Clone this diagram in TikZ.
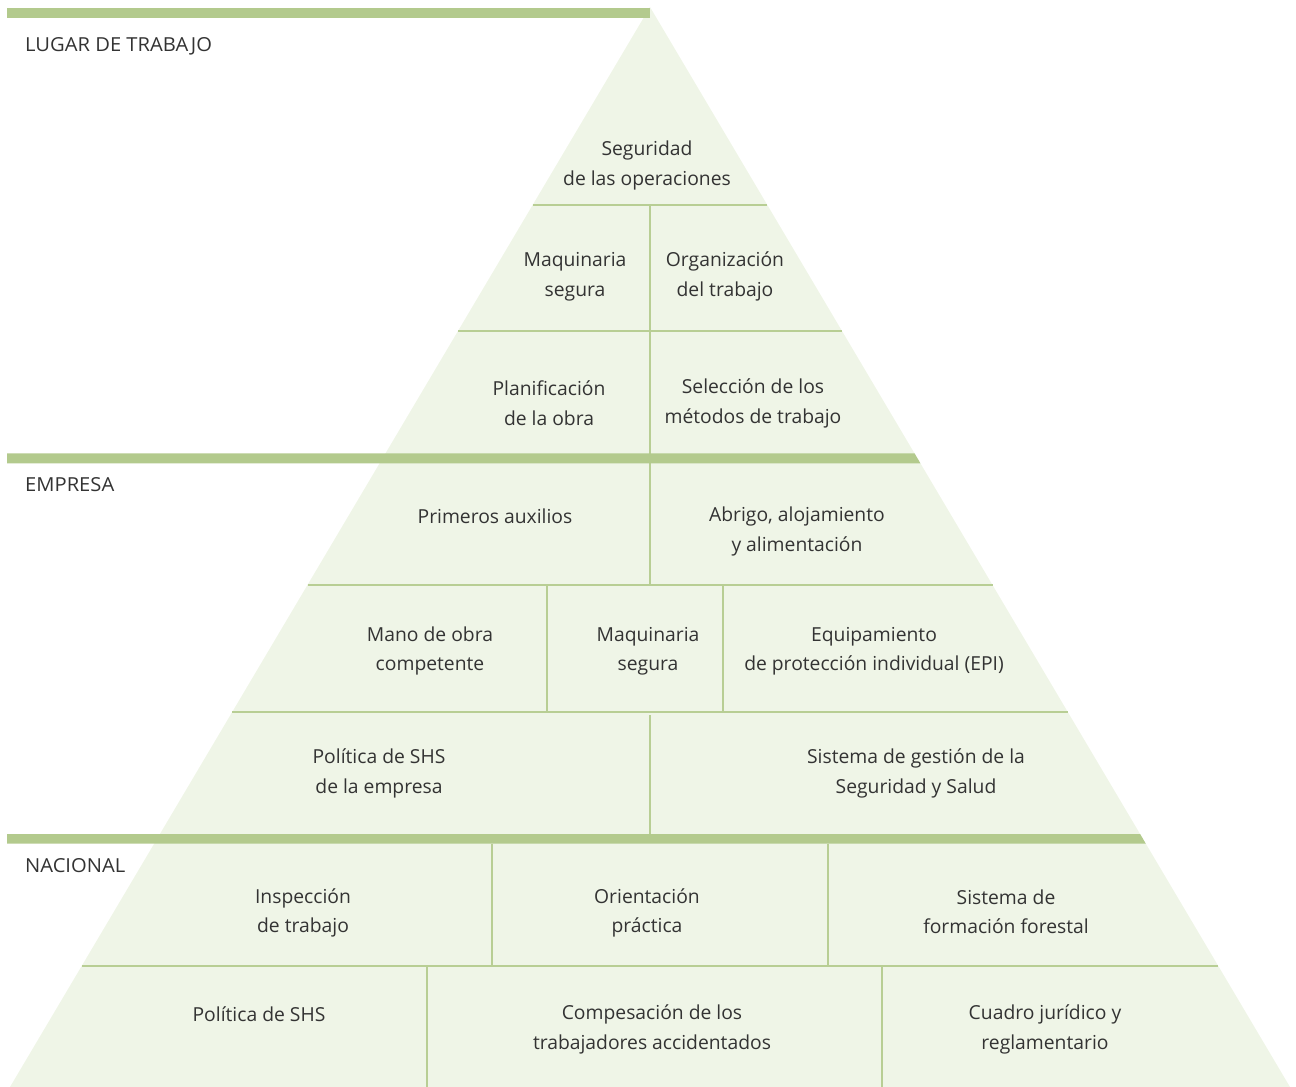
\documentclass[tikz,border=0pt]{standalone}
\usepackage{fontspec}
\setmainfont{Open Sans}
\newfontfamily\capsfont[FakeStretch=1.045]{Open Sans}
\definecolor{pfill}{HTML}{EFF5E7}
\definecolor{pbar}{HTML}{B3CA8D}
\definecolor{pline}{HTML}{B8CE94}
\definecolor{ptext}{HTML}{333333}
\begin{document}
\begin{tikzpicture}[x=1pt,y=-1pt,
  lbl/.style={font=\fontsize{19.3}{29.5}\selectfont, text=ptext, align=center, inner sep=0pt},
  sect/.style={font=\capsfont\fontsize{19.3}{29.5}\selectfont, text=ptext, inner sep=0pt, anchor=base west},
  divl/.style={draw=pline, line width=2pt},
  barf/.style={fill=pbar}]
\useasboundingbox (0,0) rectangle (1296,1087);
% pyramid
\fill[pfill] (650,7) -- (1290,1087) -- (10,1087) -- cycle;
% horizontal dividers
\draw[divl] (532.7,205) -- (767.3,205);
\draw[divl] (458.0,331) -- (842.0,331);
\draw[divl] (307.5,585) -- (992.5,585);
\draw[divl] (232.2,712) -- (1067.8,712);
\draw[divl] (81.7,966) -- (1218.3,966);
% vertical dividers
\draw[divl] (650,205) -- (650,585);
\draw[divl] (547,585) -- (547,712);
\draw[divl] (723,585) -- (723,712);
\draw[divl] (650,715) -- (650,834);
\draw[divl] (492,843.7) -- (492,966);
\draw[divl] (828,843.7) -- (828,966);
\draw[divl] (427,966) -- (427,1087);
\draw[divl] (882,966) -- (882,1087);
% bars
\fill[barf] (7,8) rectangle (650,17.7);
\fill[barf] (7,453.3) -- (914.5,453.3) -- (920.4,463.3) -- (7,463.3) -- cycle;
\fill[barf] (7,834) -- (1140.1,834) -- (1145.8,843.7) -- (7,843.7) -- cycle;
% section labels
\node[sect] (lugar) at (25,51.5) {LUGAR DE TRABAJO};
\node[sect] (empresa) at (25,491.5) {EMPRESA};
\node[sect] (nacional) at (25,872.5) {NACIONAL};
% cells
\node[lbl] (seg) at (647,165.5) {Seguridad\\de las operaciones};
\node[lbl] (maq1) at (575,276.5) {Maquinaria\\segura};
\node[lbl] (org) at (725,276.5) {Organización\\del trabajo};
\node[lbl] (plan) at (549,403) {Planificación\\de la obra};
\node[lbl] (selec) at (753,403.5) {Selección de los\\métodos de trabajo};
\node[lbl] (prim) at (495,516) {Primeros auxilios};
\node[lbl] (abrigo) at (797,531.5) {Abrigo, alojamiento\\y alimentación};
\node[lbl] (mano) at (430,651) {Mano de obra\\competente};
\node[lbl] (maq2) at (648,651) {Maquinaria\\segura};
\node[lbl] (equip) at (874,651) {Equipamiento\\de protección individual (EPI)};
\node[lbl] (polemp) at (379,773.5) {Política de SHS\\de la empresa};
\node[lbl] (sist) at (916,773.5) {Sistema de gestión de la\\Seguridad y Salud};
\node[lbl] (insp) at (303,913) {Inspección\\de trabajo};
\node[lbl] (orient) at (647,913) {Orientación\\práctica};
\node[lbl] (form) at (1006,912) {Sistema de\\formación forestal};
\node[lbl] (pol) at (259,1014) {Política de SHS};
\node[lbl] (comp) at (652,1029.5) {Compesación de los\\trabajadores accidentados};
\node[lbl] (cuadro) at (1045,1029.5) {Cuadro jurídico y\\reglamentario};
\end{tikzpicture}
\end{document}
